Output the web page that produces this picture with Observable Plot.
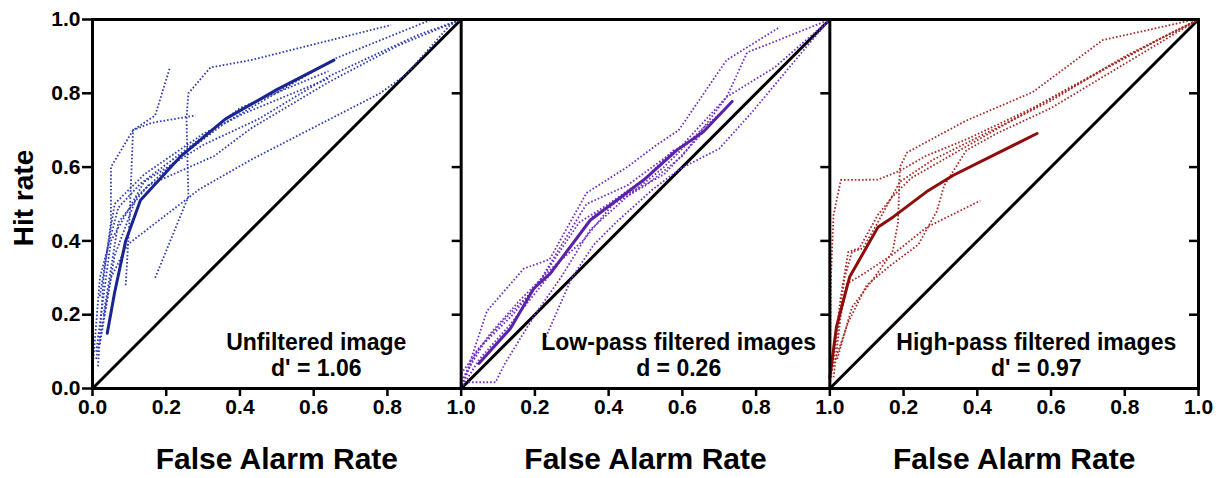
<!DOCTYPE html>
<html>
<head>
<meta charset="utf-8">
<script src="https://cdn.jsdelivr.net/npm/d3@7"></script>
<script src="https://cdn.jsdelivr.net/npm/@observablehq/plot@0.6"></script>
<style>
  html, body { margin: 0; padding: 0; background: #fff; }
</style>
</head>
<body>
<div id="chart"></div>
<script>
// ---------- data (False Alarm Rate, Hit rate) ----------
const panelNames = ["Unfiltered image", "Low-pass filtered images", "High-pass filtered images"];
const panelStats = ["d' = 1.06", "d = 0.26", "d' = 0.97"];
const axisTitleX = "False Alarm Rate";
const axisTitleY = "Hit rate";
const yTicks = [0, 0.2, 0.4, 0.6, 0.8, 1.0];
const panelTickLabels = ["0.0", "0.2", "0.4", "0.6", "0.8", "1.0"];

const unfilteredMean = [[0.04,0.15],[0.06,0.26],[0.09,0.40],[0.13,0.51],[0.24,0.63],[0.36,0.73],[0.50,0.81],[0.655,0.89]];
const unfilteredSubjects = [
  [[0.015,0.06],[0.03,0.30],[0.05,0.45],[0.05,0.60],[0.11,0.70],[0.17,0.74],[0.21,0.87]],
  [[0.09,0.28],[0.10,0.45],[0.11,0.70],[0.16,0.72],[0.28,0.74]],
  [[0.17,0.30],[0.26,0.52],[0.255,0.73],[0.26,0.80],[0.32,0.87],[0.43,0.89],[0.81,0.985]],
  [[0.01,0.08],[0.05,0.30],[0.095,0.39],[0.29,0.54],[0.43,0.62],[0.78,0.80],[0.85,0.85],[0.97,0.985],[1,1]],
  [[0.02,0.12],[0.06,0.36],[0.12,0.52],[0.24,0.63],[0.36,0.72],[0.66,0.895],[0.92,1.0]],
  [[0.01,0.10],[0.05,0.40],[0.14,0.56],[0.30,0.66],[0.45,0.73],[0.645,0.848],[0.88,0.957],[1,1]],
  [[0.03,0.20],[0.07,0.45],[0.15,0.55],[0.33,0.63],[0.43,0.705],[0.64,0.83],[0.83,0.93],[1,1]],
  [[0.02,0.25],[0.06,0.50],[0.14,0.58],[0.30,0.69],[0.41,0.745],[0.64,0.84]],
  [[0.0,0.05],[0.02,0.30],[0.07,0.49],[0.13,0.555],[0.25,0.645],[0.40,0.76],[0.64,0.86]]
];

const lowpassMean = [[0.048,0.068],[0.134,0.163],[0.197,0.271],[0.242,0.312],[0.35,0.456],[0.495,0.565],[0.585,0.646],[0.657,0.696],[0.735,0.778]];
const lowpassSubjects = [
  [[0,0],[0.02,0.06],[0.07,0.21],[0.17,0.325],[0.24,0.35],[0.34,0.53],[0.45,0.60],[0.53,0.66],[0.59,0.70],[0.72,0.89],[0.865,0.98]],
  [[0,0],[0.05,0.08],[0.13,0.17],[0.25,0.32],[0.36,0.47],[0.50,0.55],[0.60,0.63],[0.72,0.79],[0.776,0.911],[0.85,0.94],[1,1]],
  [[0,0],[0.04,0.10],[0.12,0.19],[0.20,0.27],[0.34,0.50],[0.45,0.55],[0.60,0.66],[0.72,0.79],[0.85,0.87],[1,1]],
  [[0.23,0.14],[0.30,0.30],[0.36,0.39],[0.42,0.45],[0.52,0.54],[0.595,0.596],[0.70,0.65],[0.79,0.75],[0.955,0.948],[1,1]],
  [[0.02,0.017],[0.093,0.017],[0.12,0.07],[0.20,0.20],[0.27,0.30],[0.35,0.43],[0.45,0.52],[0.55,0.60],[0.65,0.70],[0.72,0.76]],
  [[0,0.02],[0.06,0.12],[0.14,0.20],[0.22,0.30],[0.32,0.45],[0.40,0.50],[0.50,0.57],[0.58,0.65]],
  [[0,0.04],[0.08,0.15],[0.16,0.24],[0.25,0.33],[0.33,0.40],[0.42,0.51],[0.55,0.58],[0.68,0.72]]
];

const highpassMean = [[0.0,0.03],[0.018,0.167],[0.054,0.303],[0.131,0.438],[0.172,0.465],[0.262,0.533],[0.335,0.578],[0.443,0.632],[0.562,0.691]];
const highpassSubjects = [
  [[0,0],[0.003,0.30],[0.01,0.47],[0.03,0.565],[0.13,0.566],[0.19,0.59],[0.26,0.63],[0.37,0.675],[0.55,0.76],[0.75,0.87],[0.90,0.95],[1,1]],
  [[0.02,0.08],[0.06,0.22],[0.12,0.30],[0.17,0.37],[0.185,0.45],[0.19,0.60],[0.21,0.64],[0.37,0.726],[0.55,0.803],[0.74,0.944],[0.99,1.0]],
  [[0,0.02],[0.03,0.25],[0.05,0.37],[0.08,0.38],[0.13,0.47],[0.17,0.52],[0.22,0.57],[0.36,0.65],[0.50,0.73],[0.70,0.84],[0.90,0.95],[1,1]],
  [[0.01,0.03],[0.03,0.20],[0.046,0.284],[0.092,0.311],[0.173,0.365],[0.263,0.437],[0.408,0.509]],
  [[0.005,0.05],[0.05,0.18],[0.10,0.28],[0.16,0.33],[0.24,0.39],[0.29,0.48],[0.31,0.55],[0.37,0.645],[0.45,0.69],[0.60,0.76],[0.80,0.88],[1,1]],
  [[0,0.01],[0.02,0.15],[0.04,0.30],[0.06,0.37],[0.09,0.38],[0.13,0.45],[0.19,0.56],[0.28,0.62],[0.40,0.68],[0.60,0.78],[0.80,0.90],[1,1]]
];

const meanColors = ["#1b2590", "#5a22a8", "#8e0c0c"];
const subjectColors = ["#2e3cb0", "#6f2ec4", "#a52a26"];
const annotX = [0.607, 0.59, 0.56];

// ---------- build tables ----------
const W = 1229, H = 478, ML = 92, MR = 31, MT = 19, MB = 90;
const PW = (W - ML - MR) / 3;

const means = [unfilteredMean, lowpassMean, highpassMean];
const subjects = [unfilteredSubjects, lowpassSubjects, highpassSubjects];

const meanRows = [];
means.forEach((m, p) => m.forEach(([fa, hr]) => meanRows.push({panel: p, x: p + fa, y: hr})));
const subjRows = [];
subjects.forEach((list, p) => list.forEach((s, j) => s.forEach(([fa, hr]) => subjRows.push({panel: p, id: p + "-" + j, x: p + fa, y: hr}))));

const xTicks = d3.range(16).map(i => i / 5);
const xFmt = d => {
  const i = Math.round(d * 5);
  if (i === 0) return panelTickLabels[0];
  const r = i % 5;
  return r === 0 ? panelTickLabels[5] : panelTickLabels[r];
};

const annotRows = [];
panelNames.forEach((n, p) => {
  annotRows.push({x: p + annotX[p], y: 0.125, text: n});
  annotRows.push({x: p + annotX[p], y: 0.053, text: panelStats[p]});
});

const marks = [];
// chance diagonals
marks.push(Plot.link([0, 1, 2], {x1: d => d, y1: () => 0, x2: d => d + 1, y2: () => 1, stroke: "black", strokeWidth: 3}));
// individual curves
[0, 1, 2].forEach(p => {
  marks.push(Plot.line(subjRows.filter(r => r.panel === p), {
    x: "x", y: "y", z: "id", stroke: subjectColors[p], strokeWidth: 1.8,
    strokeDasharray: "1.6 2", strokeLinecap: "butt"
  }));
});
// mean curves
[0, 1, 2].forEach(p => {
  marks.push(Plot.line(meanRows.filter(r => r.panel === p), {
    x: "x", y: "y", stroke: meanColors[p], strokeWidth: 3
  }));
});
// frame and panel borders
marks.push(Plot.frame({stroke: "black", strokeWidth: 3}));
marks.push(Plot.ruleX([1, 2], {stroke: "black", strokeWidth: 3}));
// axes
marks.push(Plot.axisY({ticks: yTicks, tickFormat: d3.format(".1f"), tickSize: 10, tickPadding: 2, fontSize: 21, label: null, strokeWidth: 2.5}));
[1, 2, 3].forEach(k => {
  marks.push(Plot.axisY({ticks: yTicks, tickFormat: () => "", tickSize: 9, label: null, strokeWidth: 2.5, dx: k * PW}));
});
marks.push(Plot.axisX({ticks: xTicks, tickFormat: xFmt, tickSize: 8, tickPadding: 3, fontSize: 21, label: null, strokeWidth: 2.5}));
// axis titles
marks.push(Plot.text([0, 1, 2], {x: d => d + 0.5, frameAnchor: "bottom", dy: 80, text: () => axisTitleX, fontSize: 30, fill: "black"}));
marks.push(Plot.text([axisTitleY], {frameAnchor: "left", textAnchor: "middle", dx: -68, dy: -6, rotate: -90, text: d => d, fontSize: 28, fill: "black"}));
// annotations
marks.push(Plot.text(annotRows, {x: "x", y: "y", text: "text", fontSize: 23, fill: "black"}));

const chart = Plot.plot({
  width: W, height: H,
  marginLeft: ML, marginRight: MR, marginTop: MT, marginBottom: MB,
  x: {domain: [0, 3]},
  y: {domain: [0, 1]},
  style: {fontFamily: "'Liberation Sans', Arial, sans-serif", fontWeight: "bold", background: "white", color: "black", overflow: "visible"},
  marks
});
document.getElementById("chart").appendChild(chart);
</script>
</body>
</html>
